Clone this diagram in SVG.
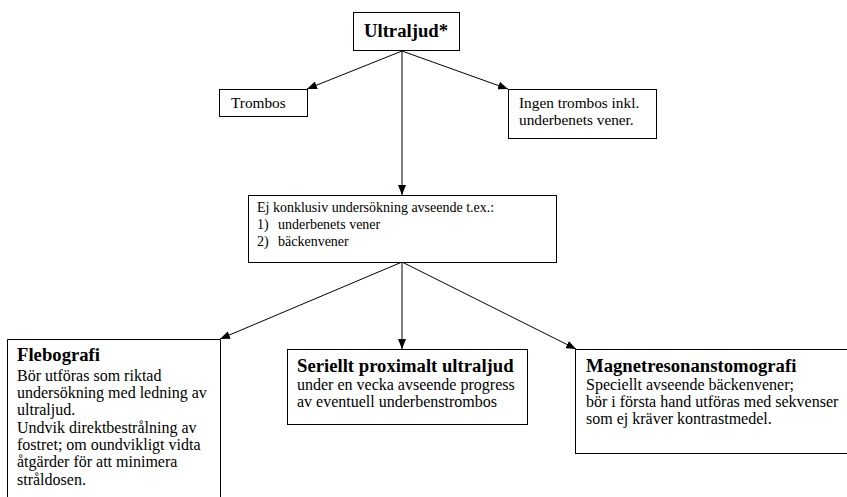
<svg xmlns="http://www.w3.org/2000/svg" width="847" height="497" viewBox="0 0 847 497">
  <style>
    .box { fill: #ffffff; stroke: #000000; stroke-width: 1; }
    .edge { fill: none; stroke: #000000; stroke-width: 1; marker-end: url(#arrow); }
    text { font-family: "Liberation Serif", "Times New Roman", serif; fill: #000000; }
    .head { font-weight: bold; font-size: 18.7px; }
    .body { font-size: 16px; }
    .small { font-size: 15.3px; }
    .mid { font-size: 14px; }
  </style>
  <defs>
    <marker id="arrow" viewBox="0 0 10 8" refX="10" refY="4" markerWidth="10" markerHeight="8" markerUnits="userSpaceOnUse" orient="auto">
      <path d="M0,0 L10,4 L0,8 Z" fill="#000000"/>
    </marker>
  </defs>

  <rect width="847" height="497" fill="#ffffff"/>

  <!-- connectors -->
  <g id="connectors">
    <line class="edge" x1="402" y1="51" x2="307" y2="89"/>
    <line class="edge" x1="402" y1="51" x2="508" y2="89"/>
    <line class="edge" x1="402" y1="51" x2="402" y2="195"/>
    <line class="edge" x1="402" y1="262" x2="220" y2="339"/>
    <line class="edge" x1="402" y1="262" x2="402" y2="349"/>
    <line class="edge" x1="402" y1="262" x2="576" y2="349"/>
  </g>

  <g id="ultraljud">
    <rect class="box" x="353.5" y="12.5" width="106" height="38"/>
    <text class="head" x="406" y="37" text-anchor="middle">Ultraljud*</text>
  </g>

  <g id="trombos">
    <rect class="box" x="219.5" y="89.5" width="88" height="27"/>
    <text class="small" x="231" y="108">Trombos</text>
  </g>

  <g id="ingen-trombos">
    <rect class="box" x="508.5" y="89.5" width="148" height="49"/>
    <text class="small" x="519" y="108">Ingen trombos inkl.</text>
    <text class="small" x="519" y="125">underbenets vener.</text>
  </g>

  <g id="ej-konklusiv">
    <rect class="box" x="248.5" y="195.5" width="308" height="67"/>
    <text class="mid" x="257" y="212">Ej konklusiv undersökning avseende t.ex.:</text>
    <text class="mid" x="257" y="229">1)</text>
    <text class="mid" x="278" y="229">underbenets vener</text>
    <text class="mid" x="257" y="246">2)</text>
    <text class="mid" x="278" y="246">bäckenvener</text>
  </g>

  <g id="flebografi">
    <path class="box" d="M7.5,500 V339.5 H220.5 V500"/>
    <text class="head" x="17" y="361">Flebografi</text>
    <text class="body" x="17" y="381">Bör utföras som riktad</text>
    <text class="body" x="17" y="398">undersökning med ledning av</text>
    <text class="body" x="17" y="415">ultraljud.</text>
    <text class="body" x="17" y="433">Undvik direktbestrålning av</text>
    <text class="body" x="17" y="450">fostret; om oundvikligt vidta</text>
    <text class="body" x="17" y="467">åtgärder för att minimera</text>
    <text class="body" x="17" y="485">stråldosen.</text>
  </g>

  <g id="seriellt">
    <rect class="box" x="287.5" y="349.5" width="240" height="75"/>
    <text class="head" x="297" y="372">Seriellt proximalt ultraljud</text>
    <text class="body" x="297" y="390">under en vecka avseende progress</text>
    <text class="body" x="297" y="407">av eventuell underbenstrombos</text>
  </g>

  <g id="magnetresonans">
    <rect class="box" x="575.5" y="349.5" width="280" height="104"/>
    <text class="head" x="586" y="372">Magnetresonanstomografi</text>
    <text class="body" x="586" y="390">Speciellt avseende bäckenvener;</text>
    <text class="body" x="586" y="407">bör i första hand utföras med sekvenser</text>
    <text class="body" x="586" y="424">som ej kräver kontrastmedel.</text>
  </g>
</svg>
